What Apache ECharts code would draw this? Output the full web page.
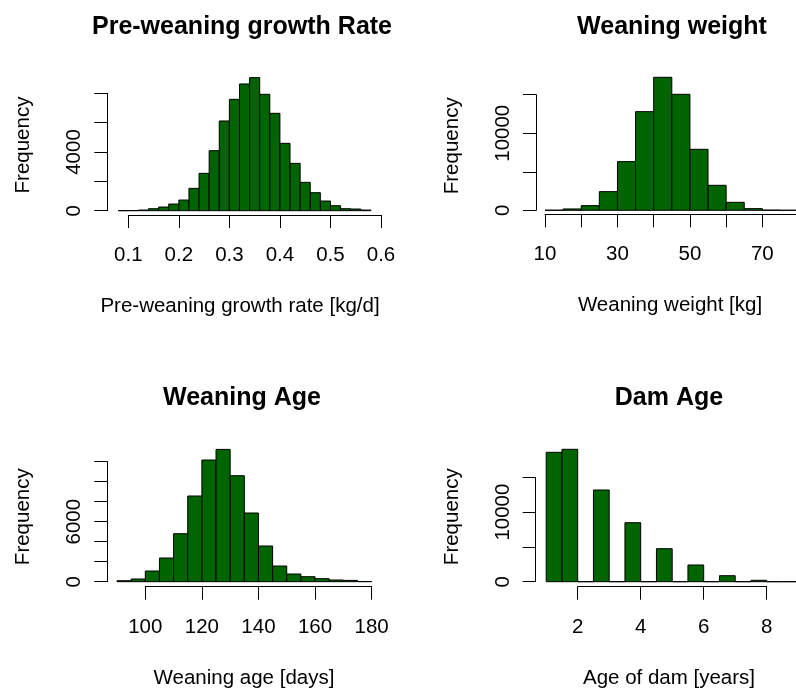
<!DOCTYPE html>
<html><head><meta charset="utf-8">
<script src="https://cdn.jsdelivr.net/npm/echarts@6/dist/echarts.min.js"></script>
<style>html,body{margin:0;padding:0;background:#fff}#c{width:796px;height:690px}</style>
</head><body><div id="c"></div>
<script>
// ---- data ----
const growthBreaks = [0.08,0.10,0.12,0.14,0.16,0.18,0.20,0.22,0.24,0.26,0.28,0.30,0.32,0.34,0.36,0.38,0.40,0.42,0.44,0.46,0.48,0.50,0.52,0.54,0.56,0.58];
const growthCounts = [5,10,45,136,250,455,727,1523,2545,4090,6114,7590,8636,9068,7932,6636,4590,3227,1932,1227,659,341,136,114,45];
const growthXTicks = [0.1,0.2,0.3,0.4,0.5,0.6];
const growthYLabels = [0,4000];

const weightBreaks = [10,15,20,25,30,35,40,45,50,55,60,65,70,75,80];
const weightCounts = [15,173,605,2422,6315,12803,17258,15052,7915,3244,1038,216,30,5];
const weightXLabels = [10,30,50,70];
const weightYLabels = [0,10000];

const ageBreaks = [90,95,100,105,110,115,120,125,130,135,140,145,150,155,160,165,170,175,180];
const ageCounts = [100,270,1070,2370,4800,8570,12170,13230,10600,6870,3570,1570,770,500,300,170,130,20];
const ageXLabels = [100,120,140,160,180];
const ageYLabels = [0,6000];

const damBreaks = [1,1.5,2,2.5,3,3.5,4,4.5,5,5.5,6,6.5,7,7.5,8,8.5,9];
const damCounts = [18592,19023,0,13175,0,8477,0,4741,0,2400,0,862,0,200,0,0];
const damXLabels = [2,4,6,8];
const damYLabels = [0,10000];

const titles = ['Pre-weaning growth Rate','Weaning weight','Weaning Age','Dam Age'];
const xNames = ['Pre-weaning growth rate [kg/d]','Weaning weight [kg]','Weaning age [days]','Age of dam [years]'];
const yName = 'Frequency';

// ---- layout ----
const FONT = '"Liberation Sans", Arial, sans-serif';
const FS = 20.5;
const panels = [
  {breaks:growthBreaks, counts:growthCounts, xMin:0.1, xMax:0.6, xStep:0.1, xShown:growthXTicks, dec:1, yMax:8000, yStep:2000, yShown:growthYLabels,
   grid:{left:128.3, top:93.3, width:252.7, height:117.4}, xOff:4.3, yOff:21, titleX:242, titleY:14.5, xNameCx:240, yNameCy:145},
  {breaks:weightBreaks, counts:weightCounts, xMin:10, xMax:80, xStep:10, xShown:weightXLabels, dec:0, yMax:15000, yStep:5000, yShown:weightYLabels,
   grid:{left:545, top:94.7, width:253.6, height:115.6}, xOff:4.0, yOff:9, titleX:672, titleY:14.5, xNameCx:670, yNameCy:145.8},
  {breaks:ageBreaks, counts:ageCounts, xMin:100, xMax:180, xStep:20, xShown:ageXLabels, dec:0, yMax:12000, yStep:2000, yShown:ageYLabels,
   grid:{left:145.3, top:461.7, width:226.3, height:120}, xOff:5, yOff:38, titleX:242, titleY:385.5, xNameCx:244, yNameCy:516.7},
  {breaks:damBreaks, counts:damCounts, xMin:2, xMax:8, xStep:2, xShown:damXLabels, dec:0, yMax:15000, yStep:5000, yShown:damYLabels,
   grid:{left:577.7, top:477.3, width:189, height:104.4}, xOff:5, yOff:42, titleX:669, titleY:385.5, xNameCx:669, yNameCy:516.7}
];

function renderBar(params, api) {
  const x0 = api.value(0), x1 = api.value(1), c = api.value(2);
  const pTop = api.coord([x0, c]);
  const pBot = api.coord([x1, 0]);
  return {
    type: 'rect',
    shape: {x: pTop[0], y: pTop[1], width: pBot[0] - pTop[0], height: pBot[1] - pTop[1]},
    style: {fill: '#006400', stroke: '#000', lineWidth: 1}
  };
}

const grid = [], xAxis = [], yAxis = [], series = [], title = [];
panels.forEach((p, i) => {
  grid.push(Object.assign({outerBoundsMode: 'none', containLabel: false}, p.grid));
  const gcx = p.grid.left + p.grid.width / 2;
  const dx = gcx - p.xNameCx;
  const gcy = p.grid.top + p.grid.height / 2;
  const dy = gcy - p.yNameCy;
  xAxis.push({
    type: 'value', gridIndex: i, min: p.xMin, max: p.xMax, interval: p.xStep,
    position: 'bottom', offset: p.xOff,
    axisLine: {show: true, onZero: false, lineStyle: {color: '#000', width: 1}},
    axisTick: {show: true, length: 13, lineStyle: {color: '#000', width: 1}},
    splitLine: {show: false},
    axisLabel: {margin: 30, fontSize: FS, color: '#000', fontFamily: FONT,
      formatter: v => p.xShown.some(s => Math.abs(s - v) < 1e-9) ? v.toFixed(p.dec) : ''},
    name: xNames[i], nameLocation: 'middle', nameGap: 81,
    nameTextStyle: {fontSize: FS, color: '#000', fontFamily: FONT,
      padding: dx > 0 ? [0, 2 * dx, 0, 0] : [0, 0, 0, -2 * dx]}
  });
  yAxis.push({
    type: 'value', gridIndex: i, min: 0, max: p.yMax, interval: p.yStep,
    position: 'left', offset: p.yOff,
    axisLine: {show: true, onZero: false, lineStyle: {color: '#000', width: 1}},
    axisTick: {show: true, length: 13, lineStyle: {color: '#000', width: 1}},
    splitLine: {show: false},
    axisLabel: {margin: 22, rotate: 90, fontSize: FS, color: '#000', fontFamily: FONT,
      formatter: v => p.yShown.indexOf(v) >= 0 ? String(v) : ''},
    name: yName, nameLocation: 'middle', nameRotate: 90, nameGap: 73,
    nameTextStyle: {fontSize: FS, color: '#000', fontFamily: FONT,
      padding: dy > 0 ? [0, 0, 0, 2 * dy] : [0, -2 * dy, 0, 0]}
  });
  const data = p.counts.map((c, k) => [p.breaks[k], p.breaks[k + 1], c]);
  series.push({
    type: 'custom', xAxisIndex: i, yAxisIndex: i, clip: false,
    renderItem: renderBar, data: data, silent: true,
    encode: {x: [0, 1], y: 2}
  });
  title.push({
    text: titles[i], left: p.titleX, top: p.titleY, textAlign: 'center', textVerticalAlign: 'top', padding: 0,
    textStyle: {fontSize: 25, fontWeight: 'bold', color: '#000', fontFamily: FONT}
  });
});

const chart = echarts.init(document.getElementById('c'), null, {renderer: 'canvas'});
chart.setOption({animation: false, backgroundColor: '#fff', title, grid, xAxis, yAxis, series});
</script></body></html>
